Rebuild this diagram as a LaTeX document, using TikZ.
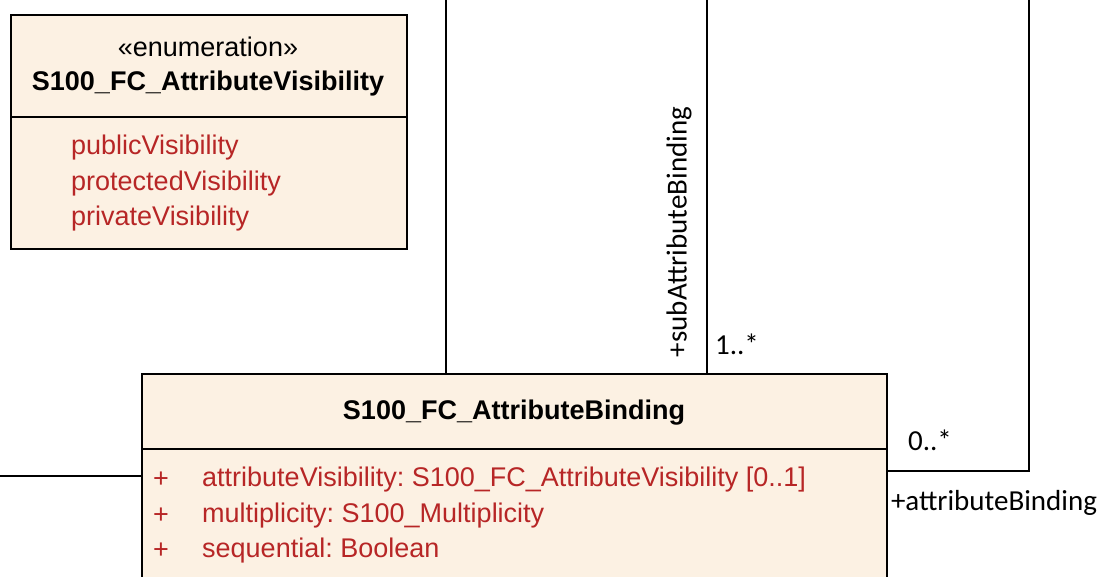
\documentclass[tikz,border=0pt]{standalone}
\usepackage{fontspec}
\setmainfont{Liberation Sans}
\newfontfamily\rolefont{Carlito}
\usetikzlibrary{positioning}
\definecolor{classfill}{RGB}{252,241,227}
\definecolor{attrred}{RGB}{183,38,38}
\frenchspacing
\tikzset{
	classbox/.style={draw=black, line width=2.2pt, fill=classfill, rectangle, anchor=north west, inner sep=0pt},
	classname/.style={font=\fontsize{27}{30}\selectfont\bfseries, inner sep=0pt},
	stereo/.style={font=\fontsize{27}{30}\selectfont, inner sep=0pt},
	literal/.style={font=\fontsize{27}{30}\selectfont, text=attrred, anchor=west, inner sep=0pt},
	rolelabel/.style={font=\rolefont\fontsize{29}{32}\selectfont, inner sep=0pt},
	assoc/.style={draw=black, line width=1.8pt}
}
\begin{document}
\begin{tikzpicture}[x=1pt, y=-1pt]
		\useasboundingbox (0,0) rectangle (1102,576);
		\clip (0,0) rectangle (1102,576);
		\node[classbox, minimum width=396pt, minimum height=234pt] (visBox) at (10,14) {};
		\draw[line width=2.2pt] (10,117) -- (406,117);
		\node[stereo] (visStereo) at (208,47) {«enumeration»};
		\node[classname] (visName) at (208,84) {S100\_FC\_AttributeVisibility};
		\foreach \lit [count=\i] in {publicVisibility,protectedVisibility,privateVisibility}
		{
			\node[literal] (lit\i) at (71,{112.5+35.5*\i}) {\lit};
		}
		\node[classbox, minimum width=745pt, minimum height=260pt] (bindBox) at (141,373) {};
		\draw[line width=2.2pt] (141,449) -- (886,449);
		\node[classname] (bindName) at (514,413) {S100\_FC\_AttributeBinding};
		\foreach \attr [count=\i] in {{attributeVisibility: S100\_FC\_AttributeVisibility [0..1]},{multiplicity: S100\_Multiplicity},{sequential: Boolean}}
		{
			\node[literal, anchor=center] (plus\i) at (161,{444.5+35.5*\i}) {+};
			\node[literal] (attr\i) at (202,{444.5+35.5*\i}) {\attr};
		}
		\coordinate (topA) at (446,0);
		\coordinate (topB) at (707,0);
		\coordinate (topC) at (1029,0);
		\coordinate (bendC) at (1029,471);
		\coordinate (leftEnd) at (0,476);
		\draw[assoc] (topA) -- (topA |- bindBox.north);
		\draw[assoc] (topB) -- (topB |- bindBox.north);
		\draw[assoc] (leftEnd) -- (leftEnd -| bindBox.west);
		\draw[assoc] (bindBox.east |- bendC) -- (bendC) -- (topC);
		\node[rolelabel, rotate=90] (subRole) at (679,232) {+subAttributeBinding};
		\node[rolelabel] (subMult) at (737,344) {1..*};
		\node[rolelabel] (bindMult) at (930,440) {0..*};
		\node[rolelabel] (bindRole) at (994,503) {+attributeBinding};
		\end{tikzpicture}
\end{document}
